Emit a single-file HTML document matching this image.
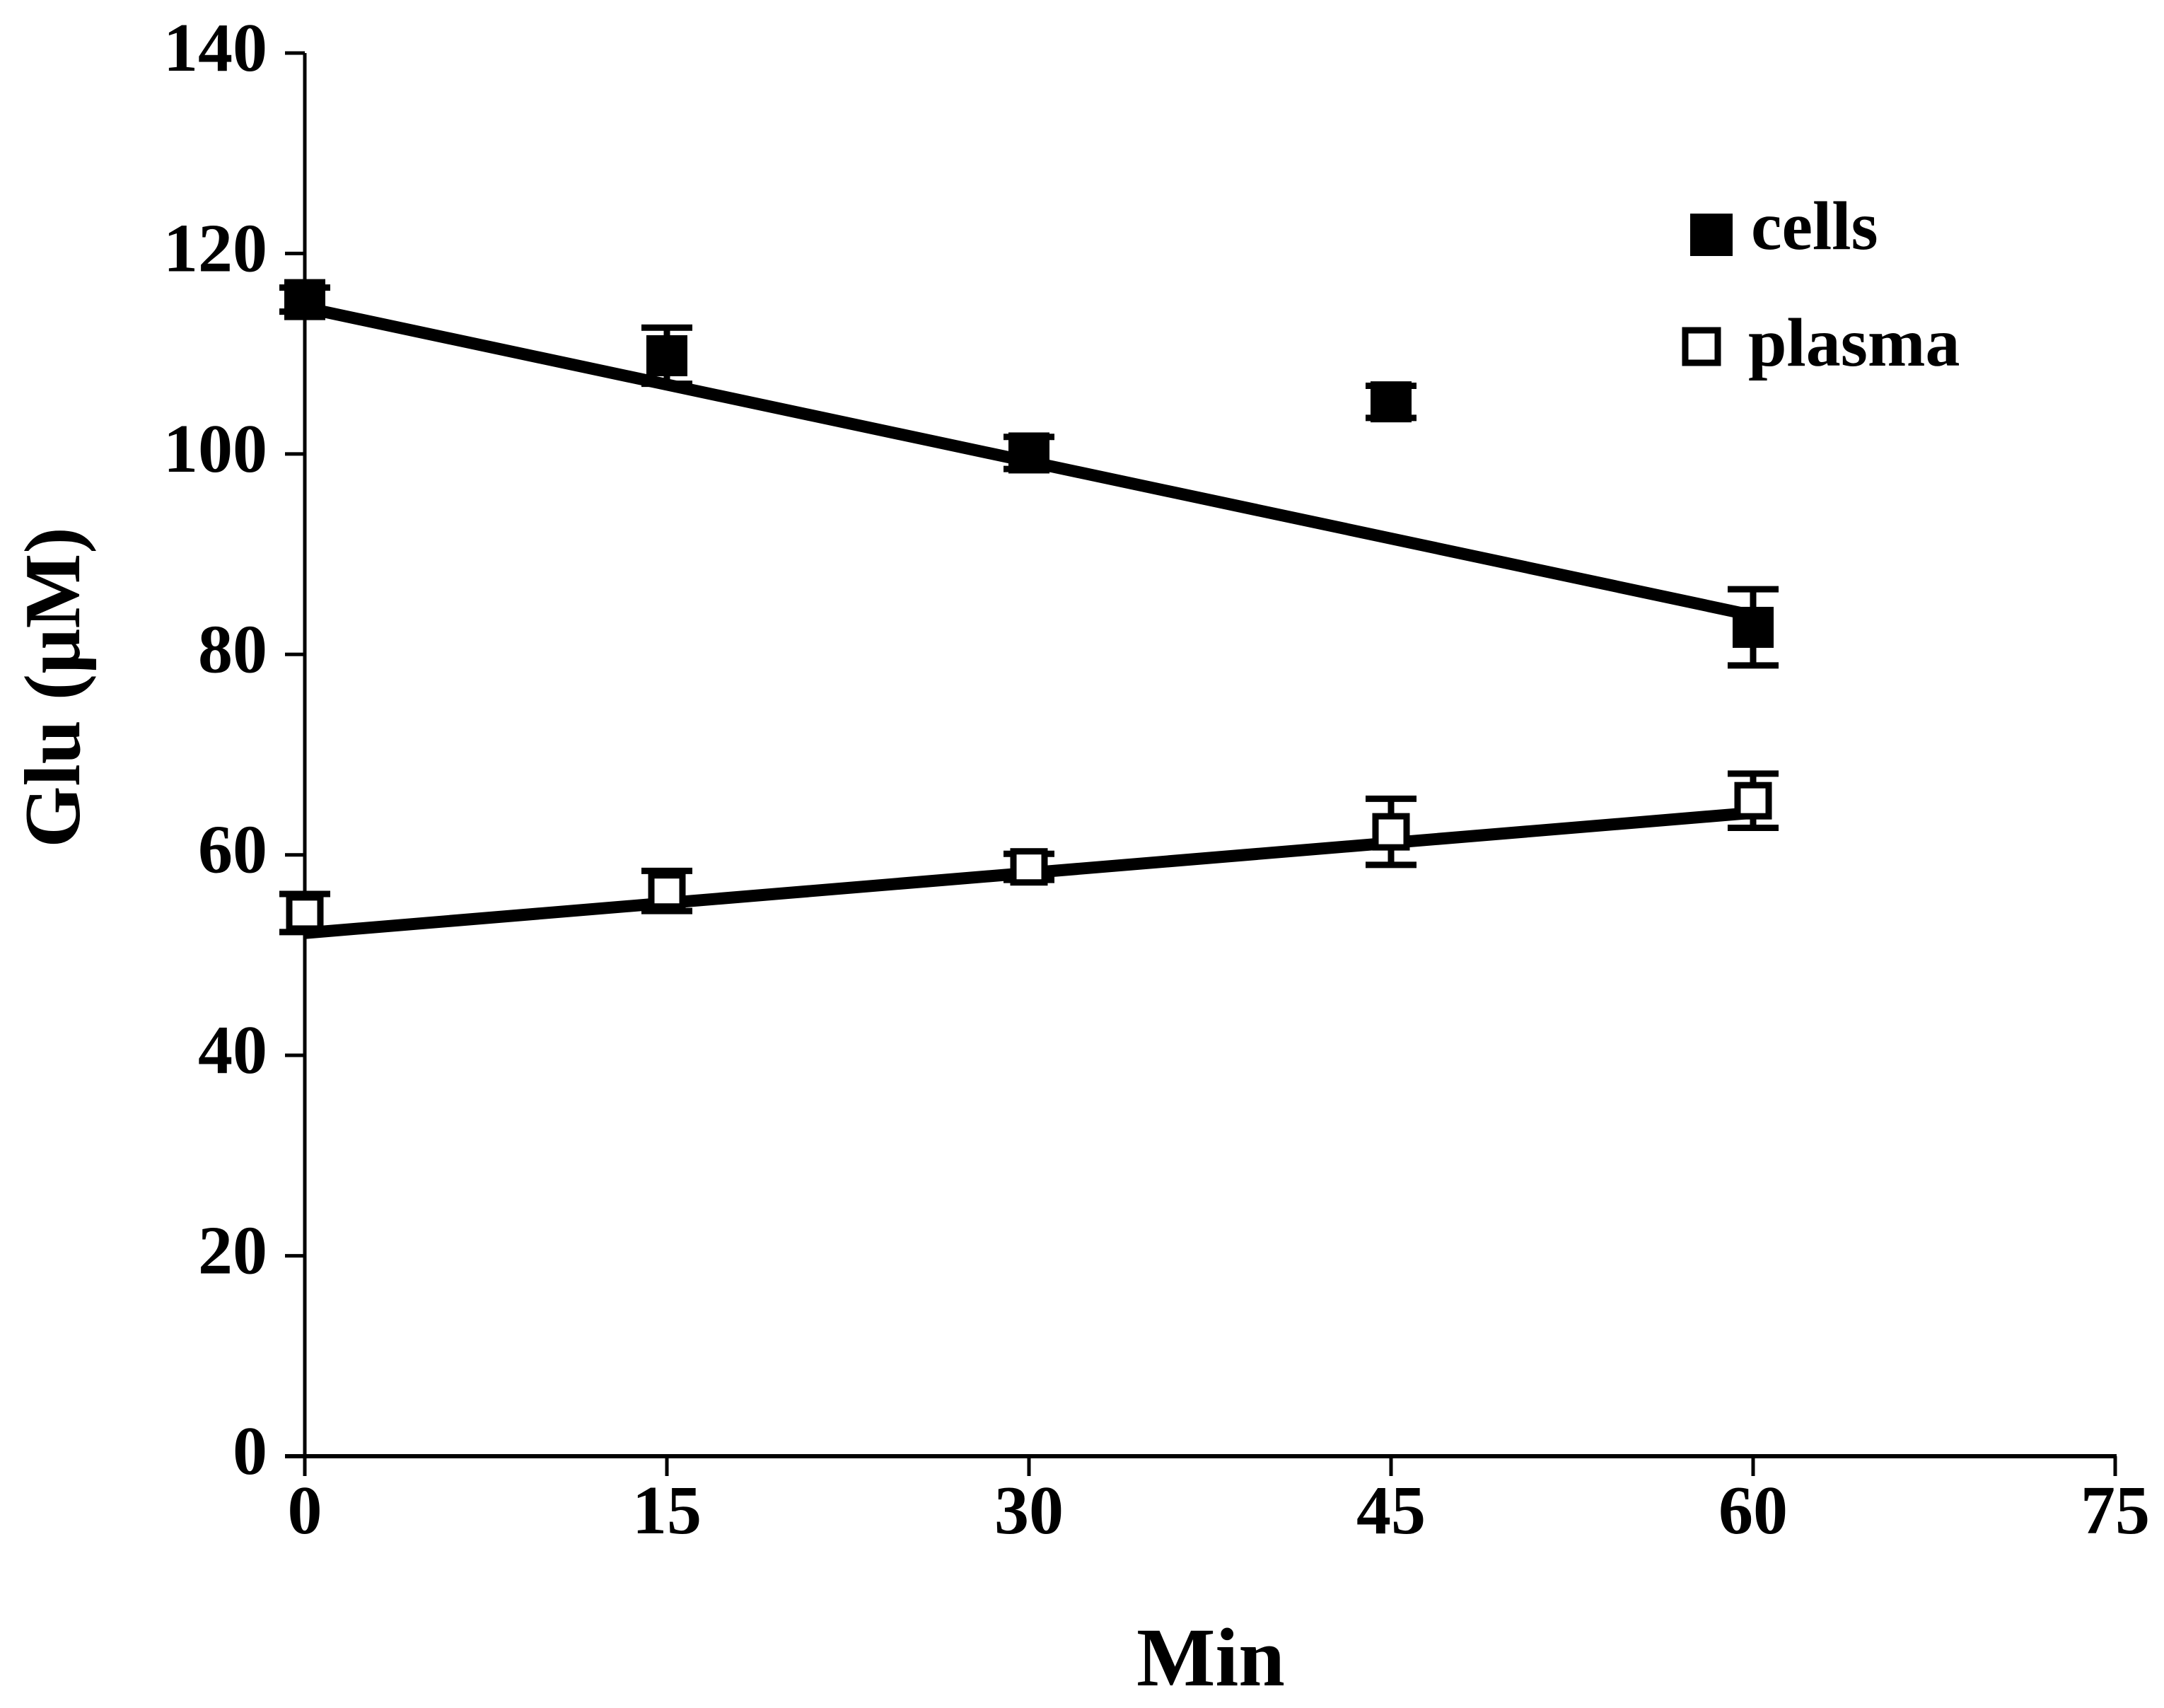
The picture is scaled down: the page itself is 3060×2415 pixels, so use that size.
<!DOCTYPE html>
<html><head><meta charset="utf-8"><style>
html,body{margin:0;padding:0;background:#fff;}
svg{display:block;}
text{font-family:"Liberation Serif",serif;font-weight:bold;fill:#000;}
</style></head><body>
<svg id="chart" width="3060" height="2415" viewBox="0 0 3060 2415" xmlns="http://www.w3.org/2000/svg">
<g id="axes"></g>
<g id="fits"></g>
<g id="marks"></g>
<g>
  <rect x="2390" y="302" width="60" height="60" fill="#000"/>
  <text x="2476" y="352" font-size="98">cells</text>
  <rect x="2383" y="467" width="46" height="46" fill="#fff" stroke="#000" stroke-width="9"/>
  <text x="2472" y="517" font-size="98">plasma</text>
</g>
<text font-size="112" text-anchor="middle" transform="translate(112,972) rotate(-90)">Glu (µM)</text>
<text font-size="118" text-anchor="middle" x="1712" y="2383">Min</text>
</svg>
<script>
const xTicks = [0, 15, 30, 45, 60, 75];
const yTicks = [0, 20, 40, 60, 80, 100, 120, 140];
const times = [0, 15, 30, 45, 60];
const cellsValues = [115.4, 109.8, 100.1, 105.2, 82.7];
const cellsErrors = [1.2, 2.8, 1.6, 1.6, 3.8];
const plasmaValues = [54.2, 56.4, 58.8, 62.3, 65.4];
const plasmaErrors = [1.9, 2.0, 1.3, 3.3, 2.7];
const cellsFit = [114.6, -0.512];
const plasmaFit = [52.2, 0.200];

const X0 = 431, X1 = 2991, Y0 = 2059, Y1 = 75;
function sx(v){ return X0 + (v - 0) / 75 * (X1 - X0); }
function sy(v){ return Y0 - (v - 0) / 140 * (Y0 - Y1); }
const NS = 'http://www.w3.org/2000/svg';
function mk(parent, tag, attrs){
  const el = document.createElementNS(NS, tag);
  for (const k in attrs) el.setAttribute(k, attrs[k]);
  parent.appendChild(el);
  return el;
}
const axes = document.getElementById('axes');
let el;
el = mk(axes, 'line', {x1:X0, y1:Y1, x2:X0, y2:Y0+28, stroke:'#000', 'stroke-width':5});


el = mk(axes, 'line', {x1:X0-28, y1:Y0, x2:X1+2, y2:Y0, stroke:'#000', 'stroke-width':6});


yTicks.forEach(function(v){
  const y = sy(v);
  const t = mk(axes, 'line', {x1:X0-28, y1:y, x2:X0, y2:y, stroke:'#000', 'stroke-width':5});
  
  
  const l = mk(axes, 'text', {x:378, y:y+25, 'font-size':98, 'text-anchor':'end'});
  l.textContent = v;
  
  
});
xTicks.forEach(function(v){
  const x = sx(v);
  const t = mk(axes, 'line', {x1:x, y1:Y0, x2:x, y2:Y0+28, stroke:'#000', 'stroke-width':5});
  
  
  const l = mk(axes, 'text', {x:x, y:2168, 'font-size':98, 'text-anchor':'middle'});
  l.textContent = v;
  
  
});
const fits = document.getElementById('fits');
function drawFit(f, name){
  const a = times[0], b = times[times.length-1];
  const ln = mk(fits, 'line', {x1:sx(a), y1:sy(f[0]+f[1]*a), x2:sx(b), y2:sy(f[0]+f[1]*b), stroke:'#000', 'stroke-width':17});
  
  
}
drawFit(cellsFit, 'cells-trend-line');
drawFit(plasmaFit, 'plasma-trend-line');
const marks = document.getElementById('marks');
function drawSeries(vals, errs, filled, name){
  vals.forEach(function(v, i){
    const x = sx(times[i]), y = sy(v);
    const g = mk(marks, 'g', {});
    
    
    const yt = sy(v + errs[i]), yb = sy(v - errs[i]);
    const eb = mk(g, 'path', {d:'M'+x+' '+yt+'V'+yb+'M'+(x-36)+' '+yt+'H'+(x+36)+'M'+(x-36)+' '+yb+'H'+(x+36), stroke:'#000', 'stroke-width':9, fill:'none'});
    
    
    let m;
    if (filled) m = mk(g, 'rect', {x:x-29, y:y-29, width:58, height:58, fill:'#000'});
    else m = mk(g, 'rect', {x:x-22, y:y-22, width:44, height:44, fill:'#fff', stroke:'#000', 'stroke-width':9});
    
    
  });
}
drawSeries(cellsValues, cellsErrors, true, 'cells');
drawSeries(plasmaValues, plasmaErrors, false, 'plasma');
</script>
</body></html>
